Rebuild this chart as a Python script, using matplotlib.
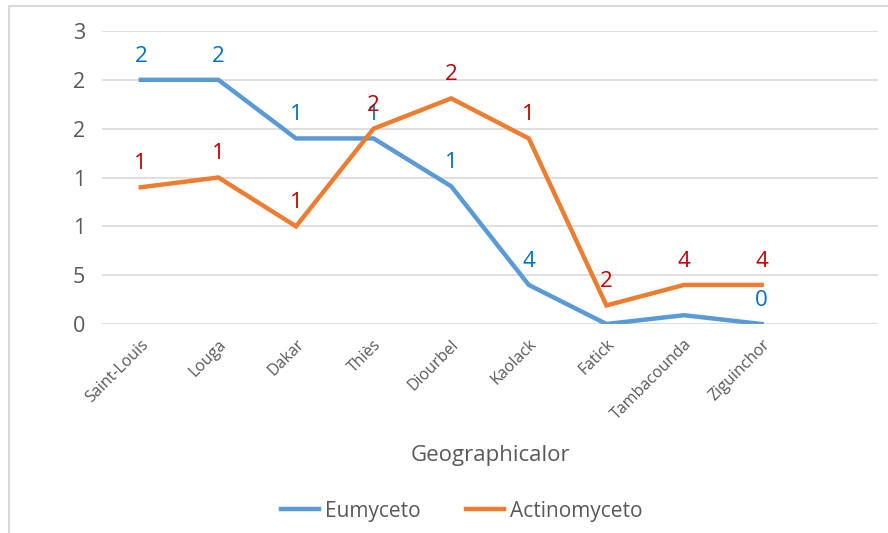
import matplotlib.pyplot as plt
from matplotlib.patches import Rectangle

regions = ['Saint-Louis', 'Louga', 'Dakar', 'Thiès', 'Diourbel', 'Kaolack',
           'Fatick', 'Tambacounda', 'Ziguinchor']
eumyceto = [2.5, 2.5, 1.9, 1.9, 1.41, 0.4, 0.0, 0.09, 0.0]
actinomyceto = [1.4, 1.5, 1.0, 2.0, 2.31, 1.9, 0.19, 0.4, 0.4]
eumyceto_labels = ['2', '2', '1', '1', '1', '4', '', '', '0']
actinomyceto_labels = ['1', '1', '1', '2', '2', '1', '2', '4', '4']
yticks = [0, 0.5, 1, 1.5, 2, 2.5, 3]
ytick_labels = ['0', '5', '1', '1', '2', '2', '3']

plt.rcParams['font.family'] = ['Open Sans', 'DejaVu Sans']
grey = '#595959'

fig = plt.figure(figsize=(8.88, 5.33), dpi=100)
ax = fig.add_axes([102 / 888, 1 - 324 / 533, 776 / 888, 293 / 533])

# chart frame
fig.patches.append(Rectangle((9 / 888, -0.1), 1.2, 1 - 6 / 533 + 0.1,
                             transform=fig.transFigure, fill=False,
                             edgecolor='#D9D9D9', linewidth=1.5))

x = list(range(len(regions)))
ax.plot(x, eumyceto, color='#5B9BD5', linewidth=3.2, label='Eumyceto',
        solid_joinstyle='miter')
ax.plot(x, actinomyceto, color='#ED7D31', linewidth=3.2, label='Actinomyceto',
        solid_joinstyle='miter')

for xi, v, t in zip(x, eumyceto, eumyceto_labels):
    ax.annotate(t, (xi, v), xytext=(0, 17), textcoords='offset points',
                ha='center', va='center', color='#0070C0', fontsize=16)
for xi, v, t in zip(x, actinomyceto, actinomyceto_labels):
    ax.annotate(t, (xi, v), xytext=(0, 17), textcoords='offset points',
                ha='center', va='center', color='#C00000', fontsize=16)

ax.set_xlim(-0.5, 9.5)
ax.set_ylim(0, 3)
ax.set_yticks(yticks, ytick_labels)
ax.set_xticks(x, regions, rotation=45, ha='right', rotation_mode='anchor')
ax.tick_params(axis='y', length=0, pad=12, labelsize=15.5, labelcolor=grey)
ax.tick_params(axis='x', length=0, pad=9, labelsize=11.5, labelcolor=grey)
ax.grid(axis='y', color='#D9D9D9', linewidth=1.2)
ax.set_axisbelow(True)
for s in ax.spines.values():
    s.set_visible(False)

fig.text(490 / 888, 1 - 456 / 533, 'Geographicalor', ha='center', va='center',
         fontsize=16, color=grey)

fig.legend(loc='center', bbox_to_anchor=(462 / 888, 1 - 511 / 533), ncol=2,
           frameon=False, fontsize=15, labelcolor=grey, handlelength=1.8,
           columnspacing=2.2, handletextpad=0.3)

fig.savefig('out.png', dpi=100)
